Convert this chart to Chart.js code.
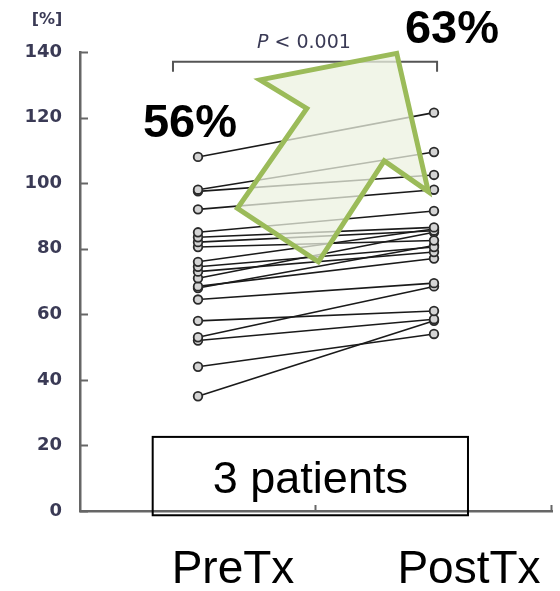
<!DOCTYPE html>
<html>
<head>
<meta charset="utf-8">
<script src="https://cdn.jsdelivr.net/npm/chart.js@4.4.1/dist/chart.umd.min.js"></script>
<style>
  html, body { margin: 0; padding: 0; background: #fff; }
  #wrap { width: 560px; height: 591px; position: relative; }
</style>
</head>
<body>
<div id="wrap"><canvas id="c" width="560" height="591"></canvas></div>
<script>
// Time points on the x axis
const timepoints = ['PreTx', 'PostTx'];
// Per-patient values [%] before and after treatment (same order in both arrays)
const preTx  = [108, 98, 97.5, 92, 85, 83.5, 82, 80.5, 76, 74.5, 73, 71, 68.5, 68, 64.5, 58, 53, 52, 44, 35];
const postTx = [121.5, 109.5, 102.5, 98, 91.5, 86.5, 85.5, 82.5, 86, 80.5, 79, 85, 77, 81, 69.5, 61, 68.5, 58.5, 54, 58];
// Y axis tick values
const yTicks = [0, 20, 40, 60, 80, 100, 120, 140];
// Annotation texts
const preRate = '56%';
const postRate = '63%';
const pText = 'P < 0.001';
const boxText = '3 patients';
const unitText = '[%]';

const AXIS_COLOR = '#666666';
const TICK_TEXT = '#3a3a55';

const datasets = preTx.map((v, i) => ({
  data: [v, postTx[i]],
  borderColor: '#1a1a1a',
  borderWidth: 1.6,
  pointRadius: 4.3,
  pointBorderWidth: 1.8,
  pointBorderColor: '#2a2a2a',
  pointBackgroundColor: '#d4d4d4',
  tension: 0,
  fill: false
}));

// Inward tick marks on both axes
const innerTicks = {
  id: 'innerTicks',
  afterDraw(chart) {
    const { ctx, chartArea: a, scales: { x, y } } = chart;
    ctx.save();
    ctx.strokeStyle = AXIS_COLOR;
    ctx.lineWidth = 2;
    yTicks.forEach(v => {
      const py = Math.round(y.getPixelForValue(v)) + 0.5;
      ctx.beginPath();
      ctx.moveTo(a.left, py);
      ctx.lineTo(a.left + 8, py);
      ctx.stroke();
    });
    [0.5, 1.5].forEach(v => {
      const px = Math.round(x.getPixelForValue(v)) - 0.5;
      ctx.beginPath();
      ctx.moveTo(px, a.bottom);
      ctx.lineTo(px, a.bottom - 6);
      ctx.stroke();
    });
    ctx.restore();
  }
};

// Significance bracket, rate labels, green arrow and the patient-count box
const notes = {
  id: 'notes',
  afterDatasetsDraw(chart) {
    const { ctx, scales: { x, y } } = chart;
    const X = v => x.getPixelForValue(v);
    const Y = v => y.getPixelForValue(v);
    ctx.save();

    // unit label
    ctx.fillStyle = TICK_TEXT;
    ctx.font = 'bold 16px "DejaVu Sans"';
    ctx.textAlign = 'center';
    ctx.textBaseline = 'middle';
    ctx.fillText(unitText, 47, 20);

    // bracket
    ctx.strokeStyle = '#555555';
    ctx.lineWidth = 2;
    ctx.beginPath();
    ctx.moveTo(X(-0.106), Y(134));
    ctx.lineTo(X(-0.106), Y(137));
    ctx.lineTo(X(1.013), Y(137));
    ctx.lineTo(X(1.013), Y(134));
    ctx.stroke();

    // P value text, italic P
    ctx.fillStyle = TICK_TEXT;
    ctx.textBaseline = 'alphabetic';
    ctx.textAlign = 'left';
    const pFont = 'italic 19px "DejaVu Sans"';
    const rFont = '19px "DejaVu Sans"';
    ctx.font = pFont;
    const wP = ctx.measureText('P').width;
    ctx.font = rFont;
    const rest = pText.slice(1);
    const wR = ctx.measureText(rest).width;
    const startX = X(0.449) - (wP + wR) / 2;
    ctx.font = pFont;
    ctx.fillText('P', startX, Y(141.3));
    ctx.font = rFont;
    ctx.fillText(rest, startX + wP, Y(141.3));

    // green arrow
    const arrow = [[0.263, 131.5], [0.842, 139.6], [0.976, 97.4], [0.789, 106.8],
                   [0.510, 76.0], [0.167, 92.3], [0.461, 122.8]];
    ctx.beginPath();
    arrow.forEach(([ix, v], k) => k ? ctx.lineTo(X(ix), Y(v)) : ctx.moveTo(X(ix), Y(v)));
    ctx.closePath();
    ctx.fillStyle = 'rgba(236, 242, 224, 0.75)';
    ctx.fill();
    ctx.strokeStyle = '#9bbb59';
    ctx.lineWidth = 5;
    ctx.lineJoin = 'miter';
    ctx.stroke();

    // rate labels
    ctx.fillStyle = '#000';
    ctx.font = 'bold 47px "Liberation Sans", Arial';
    ctx.textAlign = 'center';
    ctx.fillText(preRate, X(-0.034), Y(114.1));
    ctx.fillText(postRate, X(1.076), Y(142.8));

    // patient-count box
    ctx.strokeStyle = '#000';
    ctx.lineWidth = 2;
    const bx0 = X(-0.192), bx1 = X(1.144), by0 = Y(22.6), by1 = Y(-1.3);
    ctx.strokeRect(bx0, by0, bx1 - bx0, by1 - by0);
    ctx.font = '45px "Liberation Sans", Arial';
    ctx.fillText(boxText, (bx0 + bx1) / 2, Y(5.4));

    ctx.restore();
  }
};

new Chart(document.getElementById('c'), {
  type: 'line',
  data: { labels: timepoints, datasets },
  options: {
    responsive: false,
    animation: false,
    events: [],
    layout: { padding: { top: 52, right: 8, left: 0, bottom: 0 } },
    plugins: { legend: { display: false }, tooltip: { enabled: false } },
    scales: {
      x: {
        type: 'category',
        offset: true,
        grid: { display: false, drawTicks: false },
        border: { display: true, color: AXIS_COLOR, width: 2.5 },
        ticks: {
          color: '#000',
          font: { family: '"Liberation Sans", Arial', size: 46 },
          padding: 32,
          labelOffset: 35,
          maxRotation: 0,
          autoSkip: false
        },
        afterFit(s) { s.height = 80; }
      },
      y: {
        min: 0,
        max: 140,
        afterBuildTicks(s) { s.ticks = yTicks.map(v => ({ value: v })); },
        grid: { display: false, drawTicks: false },
        border: { display: true, color: AXIS_COLOR, width: 2.5 },
        ticks: {
          color: TICK_TEXT,
          font: { family: '"DejaVu Sans"', size: 18, weight: 'bold' },
          padding: 18
        },
        afterFit(s) { s.width = 80; }
      }
    }
  },
  plugins: [innerTicks, notes]
});
</script>
</body>
</html>
